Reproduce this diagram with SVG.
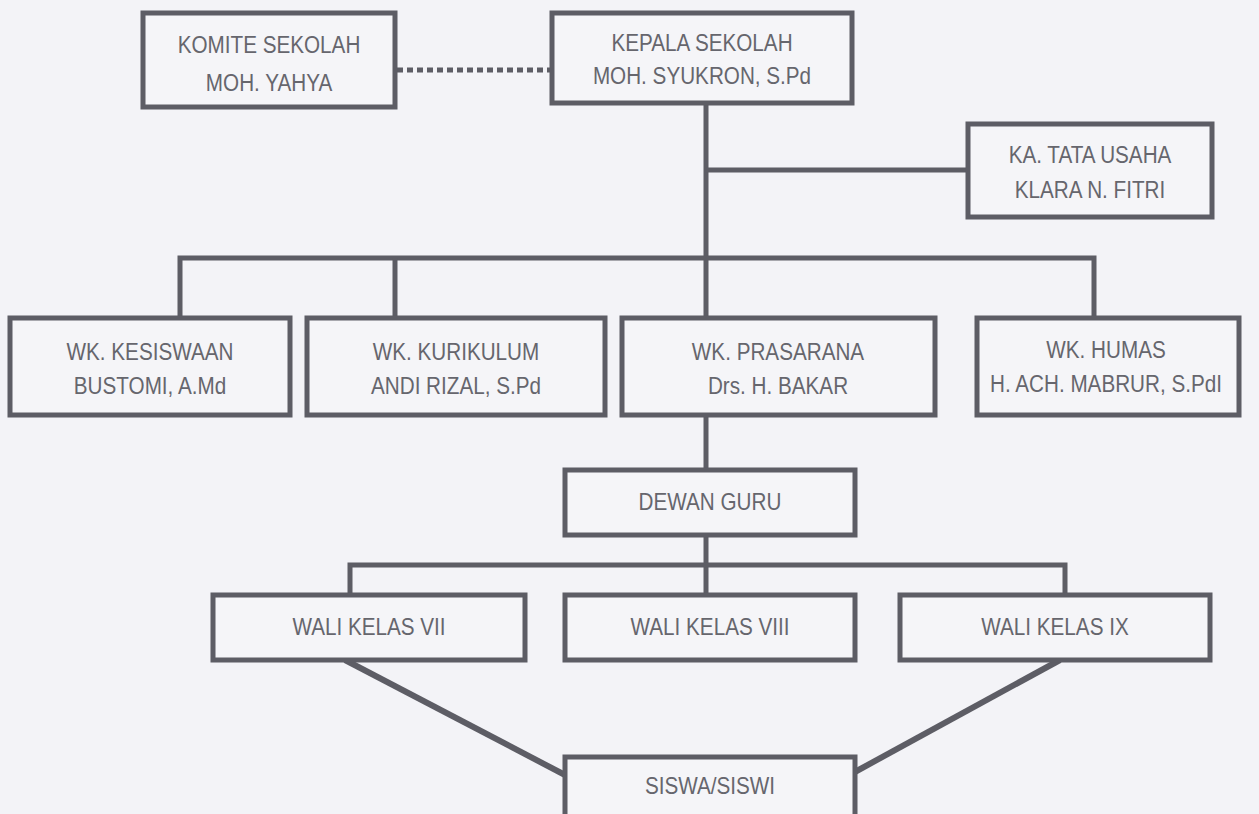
<svg xmlns="http://www.w3.org/2000/svg" width="1259" height="814" viewBox="0 0 1259 814">
<style>
.bg{fill:#f3f3f7}
.box{fill:#f5f5f8;stroke:#5d5d65;stroke-width:5}
.ln{fill:none;stroke:#5d5d65;stroke-width:5}
.dg{fill:none;stroke:#5d5d65;stroke-width:6}
.dot{fill:none;stroke:#5d5d65;stroke-width:5;stroke-dasharray:6 4}
text{font-family:"Liberation Sans",Arial,sans-serif;font-size:23.5px;fill:#66666d;text-anchor:middle;dominant-baseline:central}
</style>
<rect class="bg" x="0" y="0" width="1259" height="814"/>
<g id="connectors">
<line class="dot" x1="397" y1="70" x2="550" y2="70"/>
<path class="ln" d="M706 103 V318"/>
<path class="ln" d="M706 170 H968"/>
<path class="ln" d="M180 318 V258 H1094 V318"/>
<path class="ln" d="M395 258 V318"/>
<path class="ln" d="M706 415 V470"/>
<path class="ln" d="M706 535 V595"/>
<path class="ln" d="M350 595 V565 H1065 V595"/>
<path class="dg" d="M345 660 L567 776"/>
<path class="dg" d="M1060 660 L853 773"/>
</g>
<g id="komite"><rect class="box" x="143" y="13" width="252" height="94"/><text transform="translate(269 45) scale(.88 1)">KOMITE SEKOLAH</text><text transform="translate(269 83) scale(.88 1)">MOH. YAHYA</text></g>
<g id="kepala"><rect class="box" x="552" y="13" width="300" height="90"/><text transform="translate(702 43) scale(.88 1)">KEPALA SEKOLAH</text><text transform="translate(702 76) scale(.88 1)">MOH. SYUKRON, S.Pd</text></g>
<g id="tatausaha"><rect class="box" x="968" y="124" width="244" height="93"/><text transform="translate(1090 155) scale(.88 1)">KA. TATA USAHA</text><text transform="translate(1090 190) scale(.88 1)">KLARA N. FITRI</text></g>
<g id="kesiswaan"><rect class="box" x="10" y="318" width="280" height="97"/><text transform="translate(150 352) scale(.88 1)">WK. KESISWAAN</text><text transform="translate(150 386) scale(.88 1)">BUSTOMI, A.Md</text></g>
<g id="kurikulum"><rect class="box" x="307" y="318" width="298" height="97"/><text transform="translate(456 352) scale(.88 1)">WK. KURIKULUM</text><text transform="translate(456 386) scale(.88 1)">ANDI RIZAL, S.Pd</text></g>
<g id="prasarana"><rect class="box" x="622" y="318" width="313" height="97"/><text transform="translate(778 352) scale(.88 1)">WK. PRASARANA</text><text transform="translate(778 386) scale(.88 1)">Drs. H. BAKAR</text></g>
<g id="humas"><rect class="box" x="977" y="318" width="262" height="97"/><text transform="translate(1106 350) scale(.88 1)">WK. HUMAS</text><text transform="translate(1106 384) scale(.88 1)">H. ACH. MABRUR, S.PdI</text></g>
<g id="dewanguru"><rect class="box" x="565" y="470" width="290" height="65"/><text transform="translate(710 502) scale(.88 1)">DEWAN GURU</text></g>
<g id="wali7"><rect class="box" x="213" y="595" width="312" height="65"/><text transform="translate(369 627) scale(.88 1)">WALI KELAS VII</text></g>
<g id="wali8"><rect class="box" x="565" y="595" width="290" height="65"/><text transform="translate(710 627) scale(.88 1)">WALI KELAS VIII</text></g>
<g id="wali9"><rect class="box" x="900" y="595" width="310" height="65"/><text transform="translate(1055 627) scale(.88 1)">WALI KELAS IX</text></g>
<g id="siswa"><rect class="box" x="565" y="757" width="290" height="70"/><text transform="translate(710 786) scale(.88 1)">SISWA/SISWI</text></g>
</svg>
